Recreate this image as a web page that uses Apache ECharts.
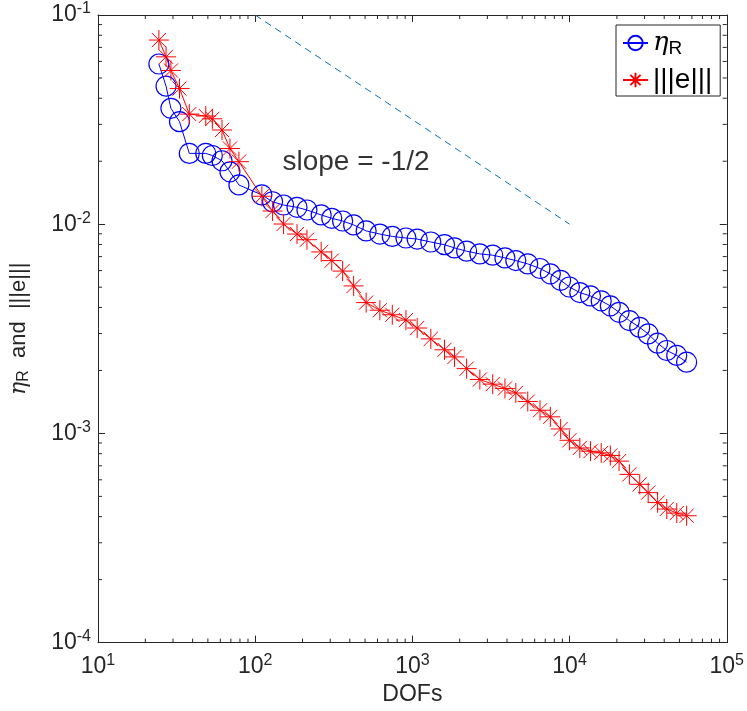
<!DOCTYPE html>
<html>
<head>
    <meta charset="utf-8">
    <title>ECharts</title>
    <script src="https://cdn.jsdelivr.net/npm/echarts@6/dist/echarts.min.js"></script>
    <style>
        html, body { margin: 0; padding: 0; background: #fff; }
    </style>
</head>
<body>
    <div id="main" style="width: 747px;height:711px;"></div>
    <script type="text/javascript">
        // ---------------- data ----------------
        var dofs = [24.4, 27.1, 29.1, 33.0, 38.1, 48.5, 53.4, 61.5, 69.1, 78.8,
            110.3, 129, 151.5, 184.5, 213.5, 263, 307, 360, 423, 508,
            621, 745, 910, 1073, 1310, 1601, 1853, 2214, 2687, 3243,
            3880, 4552, 5420, 6486, 7545, 8776, 9975, 11620, 13580, 15900,
            18170, 20650, 24020, 27950, 31620, 36320, 41520, 48060, 55570];

        var etaR = [0.0583, 0.0457, 0.0358, 0.0309, 0.0218, 0.0218, 0.0213, 0.0201, 0.0178, 0.0154,
            0.0138, 0.0128, 0.01235, 0.01204, 0.01169, 0.01107, 0.01067, 0.01036, 0.00992, 0.00929,
            0.00897, 0.00874, 0.00859, 0.00849, 0.00822, 0.00798, 0.00770, 0.00743, 0.00721, 0.00711,
            0.00690, 0.00670, 0.00646, 0.00614, 0.00579, 0.00539, 0.00501, 0.00471, 0.00454, 0.00430,
            0.00407, 0.00379, 0.00346, 0.00321, 0.00299, 0.00270, 0.00249, 0.00236, 0.00219];

        var errE = [0.0759, 0.0631, 0.0543, 0.0445, 0.0336, 0.0329, 0.0319, 0.0282, 0.0230, 0.0199,
            0.0136, 0.01156, 0.01002, 0.00897, 0.00843, 0.00737, 0.00670, 0.00597, 0.00507, 0.00422,
            0.00388, 0.00369, 0.00348, 0.00319, 0.00283, 0.00251, 0.00232, 0.00204, 0.00181, 0.00172,
            0.00164, 0.00156, 0.00142, 0.00129, 0.00120, 0.00105, 0.000927, 0.000852, 0.000822, 0.000807,
            0.000784, 0.000737, 0.000637, 0.000571, 0.000521, 0.000467, 0.000435, 0.000416, 0.000404];

        // reference slope -1/2 line
        var slopeX = [100, 10000];
        var slopeY = [0.1, 0.01];
        var slopeText = 'slope = -1/2';
        var slopeTextPos = [148, 0.0197];

        // axis range
        var xMin = 10, xMax = 100000;
        var yMin = 0.0001, yMax = 0.1;
        // minor tick multipliers inside each decade
        var minorMult = [2, 3, 4, 5, 6, 7, 8, 9];
        var xDecades = [10, 100, 1000, 10000];
        var yDecades = [0.0001, 0.001, 0.01];

        // ---------------- style ----------------
        var axisColor = '#262626';
        var fontName = 'Liberation Sans';

        function pairs(xs, ys) {
            var out = [];
            for (var i = 0; i < xs.length; i++) out.push([xs[i], ys[i]]);
            return out;
        }

        var minorX = [], minorY = [];
        xDecades.forEach(function (d) { minorMult.forEach(function (m) { minorX.push([+(m * d).toPrecision(3), yMin]); }); });
        yDecades.forEach(function (d) { minorMult.forEach(function (m) { minorY.push([xMin, +(m * d).toPrecision(3)]); }); });

        // label like 10^k
        function powLabel(v) {
            var e = Math.round(Math.log10(v));
            return '{b|10}{s|' + e + '}';
        }
        var powRich = {
            b: { fontSize: 23, lineHeight: 28, fontFamily: fontName, color: '#262626' },
            s: { fontSize: 16, lineHeight: 16, verticalAlign: 'top', fontFamily: fontName, color: '#262626' }
        };

        var starPath = 'path://M0,5L10,5M5,0L5,10M1.46,1.46L8.54,8.54M8.54,1.46L1.46,8.54';

        function baseAxis(extra) {
            var ax = {
                type: 'log',
                logBase: 10,
                splitLine: { show: false },
                axisLine: { show: true, onZero: false, lineStyle: { color: axisColor, width: 1 } },
                axisTick: { show: true, inside: true, length: 7, lineStyle: { color: axisColor } }
            };
            for (var k in extra) ax[k] = extra[k];
            return ax;
        }

        // minor ticks drawn through the axes' own scale
        function minorTickItem(isX) {
            return function (params, api) {
                var v = api.value(isX ? 0 : 1);
                var len = 4;
                var style = { stroke: axisColor, lineWidth: 1 };
                if (isX) {
                    var b = api.coord([v, yMin]);
                    var t = api.coord([v, yMax]);
                    return { type: 'group', children: [
                        { type: 'line', shape: { x1: b[0], y1: b[1], x2: b[0], y2: b[1] - len }, style: style },
                        { type: 'line', shape: { x1: t[0], y1: t[1], x2: t[0], y2: t[1] + len }, style: style }
                    ] };
                }
                var l = api.coord([xMin, v]);
                var r = api.coord([xMax, v]);
                return { type: 'group', children: [
                    { type: 'line', shape: { x1: l[0], y1: l[1], x2: l[0] + len, y2: l[1] }, style: style },
                    { type: 'line', shape: { x1: r[0], y1: r[1], x2: r[0] - len, y2: r[1] }, style: style }
                ] };
            };
        }

        var chart = echarts.init(document.getElementById('main'));
        var option = {
            backgroundColor: '#ffffff',
            animation: false,
            textStyle: { fontFamily: fontName },
            grid: { left: 95, right: 19, top: 15, bottom: 63, containLabel: false },
            legend: {
                data: ['eta', 'err'],
                orient: 'vertical',
                left: 616,
                top: 25,
                itemWidth: 25,
                itemHeight: 18,
                itemGap: 8,
                padding: [5, 8, 2, 6],
                borderColor: axisColor,
                borderWidth: 1,
                backgroundColor: '#fff',
                formatter: function (name) {
                    return name === 'eta' ? '{g|η}{sub|R}' : '{t||||e|||}';
                },
                textStyle: {
                    color: '#000',
                    rich: {
                        g: { fontSize: 26, lineHeight: 30, fontFamily: 'DejaVu Serif', fontStyle: 'italic', color: '#000' },
                        sub: { fontSize: 19, lineHeight: 19, verticalAlign: 'bottom', fontFamily: fontName, color: '#000' },
                        t: { fontSize: 28, lineHeight: 30, fontFamily: fontName, color: '#000' }
                    }
                }
            },
            xAxis: [
                baseAxis({
                    min: xMin, max: xMax, position: 'bottom',
                    name: 'DOFs', nameLocation: 'middle', nameGap: 38,
                    nameTextStyle: { fontSize: 23, color: '#262626', fontFamily: fontName },
                    axisLabel: { margin: 10, formatter: powLabel, rich: powRich }
                }),
                baseAxis({ min: xMin, max: xMax, position: 'top', axisLabel: { show: false } })
            ],
            yAxis: [
                baseAxis({
                    min: yMin, max: yMax, position: 'left',
                    name: '{g|η}{sub|R}{t|  and  |||e|||}', nameLocation: 'middle', nameGap: 66,
                    nameTextStyle: {
                        color: '#262626',
                        rich: {
                            g: { fontSize: 22, lineHeight: 26, fontFamily: 'DejaVu Serif', fontStyle: 'italic', color: '#262626' },
                            sub: { fontSize: 16, lineHeight: 16, verticalAlign: 'bottom', fontFamily: fontName, color: '#262626' },
                            t: { fontSize: 22, lineHeight: 26, fontFamily: fontName, color: '#262626' }
                        }
                    },
                    axisLabel: { margin: 7, formatter: powLabel, rich: powRich }
                }),
                baseAxis({ min: yMin, max: yMax, position: 'right', axisLabel: { show: false } })
            ],
            series: [
                {
                    name: 'slope',
                    type: 'line',
                    data: pairs(slopeX, slopeY),
                    showSymbol: false,
                    symbol: 'none',
                    lineStyle: { color: '#0072BD', width: 1, type: [7, 5] },
                    silent: true
                },
                {
                    name: 'eta',
                    type: 'line',
                    data: pairs(dofs, etaR),
                    symbol: 'circle',
                    symbolSize: 20,
                    showAllSymbol: true,
                    lineStyle: { color: '#0000ff', width: 1 },
                    itemStyle: { color: 'rgba(0,0,0,0)', borderColor: '#0000ff', borderWidth: 1.2 }
                },
                {
                    name: 'err',
                    type: 'line',
                    data: pairs(dofs, errE),
                    symbol: starPath,
                    symbolSize: 20,
                    showAllSymbol: true,
                    lineStyle: { color: '#ff0000', width: 1 },
                    itemStyle: { color: '#ff0000', borderColor: '#ff0000', borderWidth: 1 }
                },
                {
                    name: 'slopeLabel',
                    type: 'scatter',
                    data: [slopeTextPos],
                    symbolSize: 1,
                    itemStyle: { color: 'rgba(0,0,0,0)' },
                    silent: true,
                    label: {
                        show: true, position: 'right', distance: 0,
                        formatter: slopeText, fontSize: 28, color: '#000', fontFamily: fontName
                    }
                },
                {
                    name: 'minorX', type: 'custom', data: minorX, silent: true, clip: false,
                    renderItem: minorTickItem(true)
                },
                {
                    name: 'minorY', type: 'custom', data: minorY, silent: true, clip: false,
                    renderItem: minorTickItem(false)
                }
            ]
        };
        chart.setOption(option);
    </script>
</body>
</html>
